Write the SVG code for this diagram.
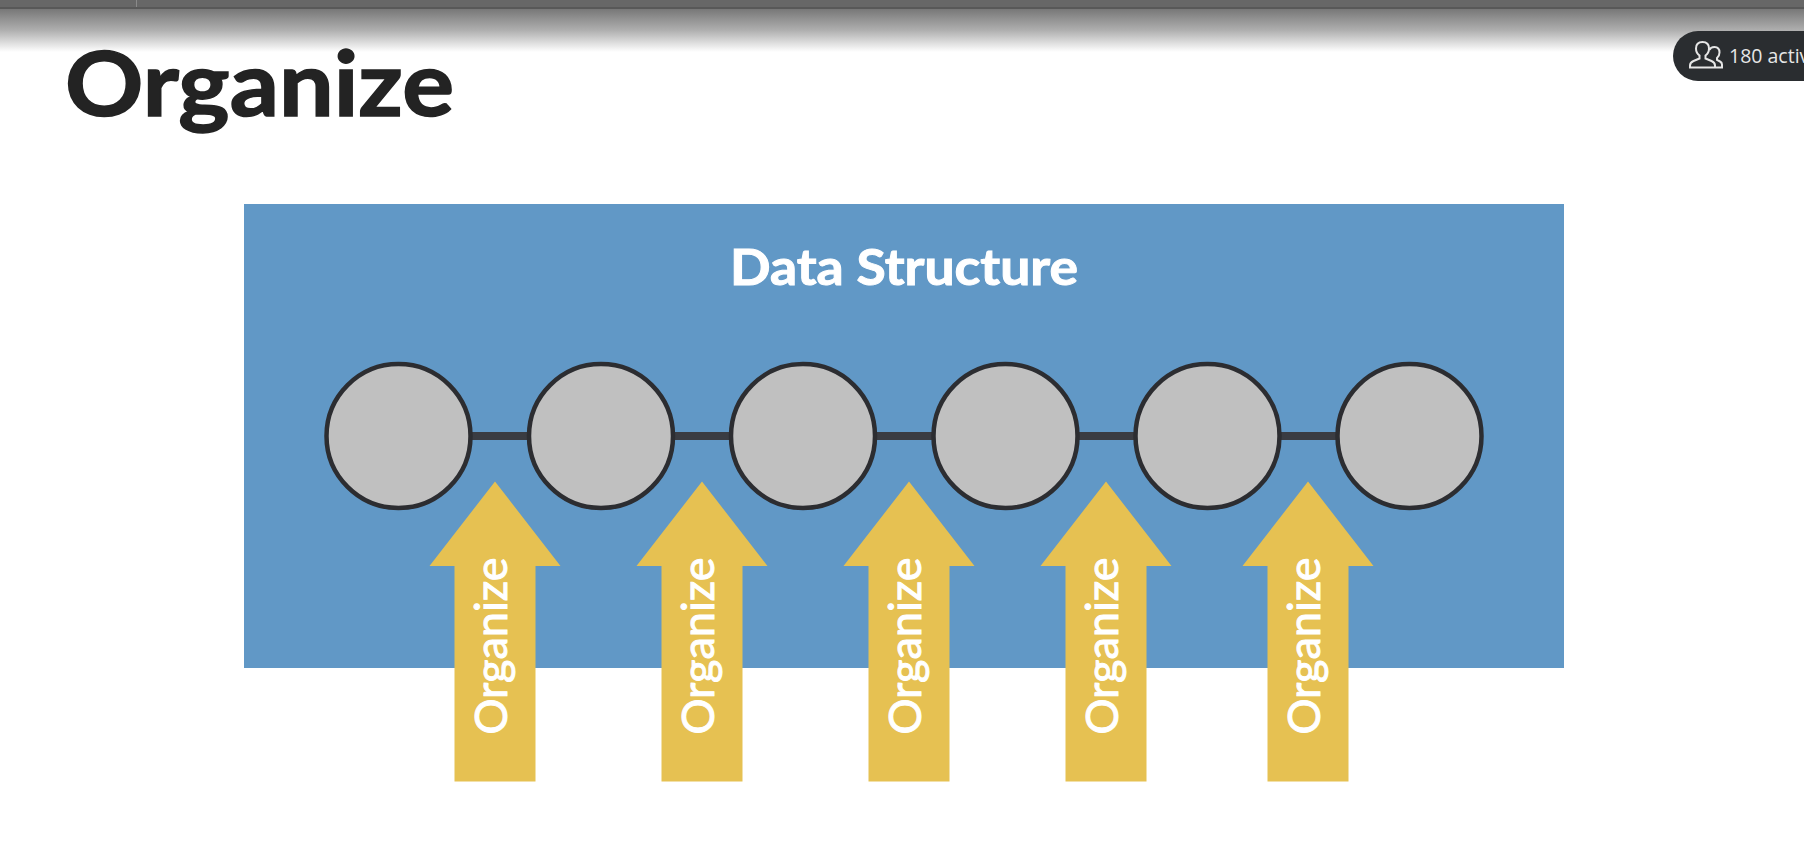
<svg xmlns="http://www.w3.org/2000/svg" width="1804" height="855" viewBox="0 0 1804 855">
<style>
.node{fill:#c0c0c0;stroke:#2c2d31;stroke-width:4.500}
.arrow{fill:#e6c152}
.lbl{font-family:"Lato","Liberation Sans",sans-serif;font-weight:400;font-size:45px;fill:#fff;stroke:#fff;stroke-width:1;text-anchor:middle}
.link{stroke:#3a3c42;stroke-width:8;fill:none}
</style>
<defs>
<linearGradient id="shade" x1="0" y1="0" x2="0" y2="1"><stop offset="0" stop-color="#757575"/><stop offset="0.5" stop-color="#aeaeae"/><stop offset="1" stop-color="#ffffff"/></linearGradient>
<path id="arr" d="M0,0 L65.500,84.500 L40.500,84.500 L40.500,300 L-40.500,300 L-40.500,84.500 L-65.500,84.500 Z"/>
</defs>
<rect width="1804" height="855" fill="#fff"/>
<g id="topbar">
<rect x="0" y="8" width="1804" height="44" fill="url(#shade)"/>
<rect x="0" y="0" width="1804" height="7" fill="#676767"/>
<rect x="0" y="7" width="1804" height="2" fill="#585858"/>
<rect x="136" y="0" width="1" height="7" fill="#8a8a8a"/>
</g>
<text id="title" x="65" y="116" font-family="Lato,'Liberation Sans',sans-serif" font-weight="700" font-size="89" fill="#232323" stroke="#232323" stroke-width="1.500" textLength="389" lengthAdjust="spacingAndGlyphs">Organize</text>
<g id="badge">
<rect x="1673" y="31" width="180" height="50" rx="25" fill="#2a2d30"/>
<g fill="none" stroke="#e6e6e6" stroke-width="2">
<path d="M1690,67.500 v-2 q0,-3 3.500,-4.500 l6,-2.500 v-3 q-3.500,-2.500 -3.500,-7 q0,-6.500 6.500,-6.500 q6.500,0 6.500,6.500 q0,4.500 -3.500,7 v3 l6,2.500 q3.500,1.500 3.500,4.500 v2 Z"/>
<path d="M1709.500,50 q1,-3 5,-3 q5,0 5,5.500 q0,3.500 -2.500,5.500 v2 l3,1.500 q2,1 2,3 v3 h-6"/>
</g>
<text x="1729" y="63" font-family="'Open Sans','Noto Sans',sans-serif" font-size="19.500" fill="#e6e6e6">180 activ</text>
</g>
<g id="panel">
<rect x="244" y="204" width="1320" height="464" fill="#6198c6"/>
<text x="904" y="285" font-family="Lato,'Liberation Sans',sans-serif" font-weight="700" font-size="50" fill="#fff" stroke="#fff" stroke-width="1" text-anchor="middle" textLength="348" lengthAdjust="spacingAndGlyphs">Data Structure</text>
</g>
<g id="connectors">
<line class="link" x1="471" y1="436" x2="528" y2="436"/>
<line class="link" x1="674" y1="436" x2="730" y2="436"/>
<line class="link" x1="876" y1="436" x2="932" y2="436"/>
<line class="link" x1="1078" y1="436" x2="1134" y2="436"/>
<line class="link" x1="1280" y1="436" x2="1336" y2="436"/>
</g>
<g id="node1"><circle class="node" cx="398.500" cy="436" r="72"/></g>
<g id="node2"><circle class="node" cx="601" cy="436" r="72"/></g>
<g id="node3"><circle class="node" cx="803" cy="436" r="72"/></g>
<g id="node4"><circle class="node" cx="1005.500" cy="436" r="72"/></g>
<g id="node5"><circle class="node" cx="1207.500" cy="436" r="72"/></g>
<g id="node6"><circle class="node" cx="1409.500" cy="436" r="72"/></g>
<g id="arrow1"><use href="#arr" class="arrow" x="495" y="481.500"/><text class="lbl" transform="translate(507 646) rotate(-90)" textLength="177" lengthAdjust="spacingAndGlyphs">Organize</text></g>
<g id="arrow2"><use href="#arr" class="arrow" x="702" y="481.500"/><text class="lbl" transform="translate(714 646) rotate(-90)" textLength="177" lengthAdjust="spacingAndGlyphs">Organize</text></g>
<g id="arrow3"><use href="#arr" class="arrow" x="909" y="481.500"/><text class="lbl" transform="translate(921 646) rotate(-90)" textLength="177" lengthAdjust="spacingAndGlyphs">Organize</text></g>
<g id="arrow4"><use href="#arr" class="arrow" x="1106" y="481.500"/><text class="lbl" transform="translate(1118 646) rotate(-90)" textLength="177" lengthAdjust="spacingAndGlyphs">Organize</text></g>
<g id="arrow5"><use href="#arr" class="arrow" x="1308" y="481.500"/><text class="lbl" transform="translate(1320 646) rotate(-90)" textLength="177" lengthAdjust="spacingAndGlyphs">Organize</text></g>
</svg>
